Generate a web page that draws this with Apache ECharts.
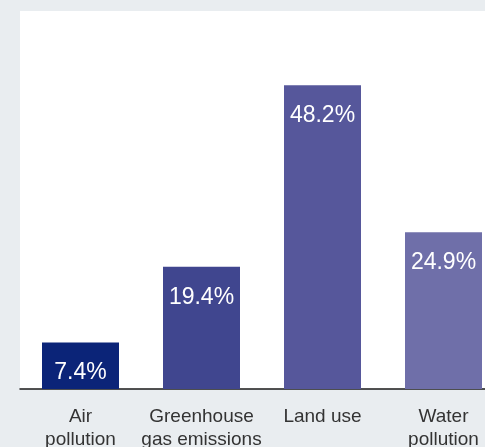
<!DOCTYPE html>
<html>
<head>
<meta charset="utf-8">
<script src="https://cdn.jsdelivr.net/npm/echarts@6/dist/echarts.min.js"></script>
<style>
html,body{margin:0;padding:0;background:#e9edf0;}
#chart{width:485px;height:447px;}
</style>
</head>
<body>
<div id="chart"></div>
<script>
const categories = ['Air\npollution', 'Greenhouse\ngas emissions', 'Land use', 'Water\npollution'];
const values = [7.4, 19.4, 48.2, 24.9];
const barColors = ['#0b2478', '#40468f', '#56579b', '#6f6fa9'];

const chart = echarts.init(document.getElementById('chart'), null, {renderer: 'canvas'});
chart.setOption({
  backgroundColor: '#e9edf0',
  animation: false,
  grid: {left: 20, top: 11, width: 484, height: 378, show: true, backgroundColor: '#ffffff', borderWidth: 0, outerBoundsMode: 'none', containLabel: false},
  xAxis: {
    type: 'category',
    data: categories,
    axisLine: {show: true, lineStyle: {color: '#1a1a1a', width: 1.5}},
    axisTick: {show: false},
    axisLabel: {color: '#333333', fontSize: 19, lineHeight: 23, margin: 16, fontFamily: 'Liberation Sans', interval: 0}
  },
  yAxis: {type: 'value', min: 0, max: 60, show: false, splitLine: {show: false}},
  series: [{
    type: 'bar',
    barWidth: 77,
    data: values.map((v, i) => ({value: v, itemStyle: {color: barColors[i]}})),
    label: {
      show: true,
      position: 'insideTop',
      distance: 19,
      color: '#ffffff',
      fontSize: 23,
      fontFamily: 'Liberation Sans',
      formatter: p => p.value.toFixed(1) + '%'
    }
  }]
});
</script>
</body>
</html>
